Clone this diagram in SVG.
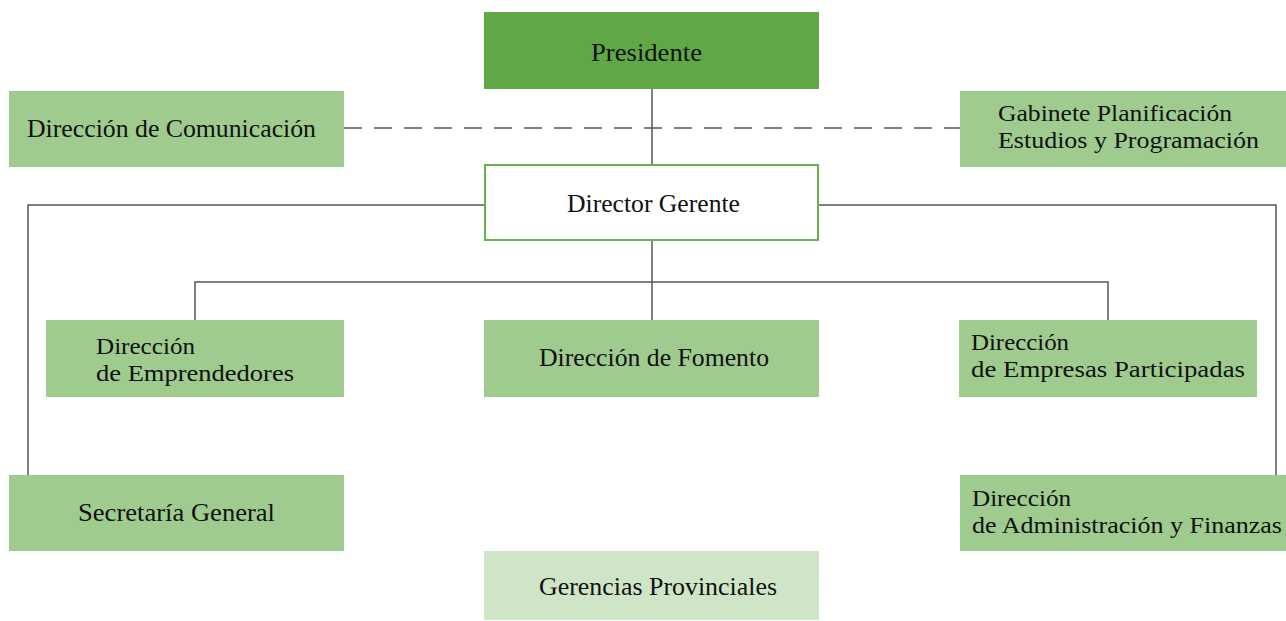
<svg xmlns="http://www.w3.org/2000/svg" width="1286" height="621" viewBox="0 0 1286 621">
<style>
text{font-family:"Liberation Serif","Times New Roman",serif;font-size:26px;fill:#111;}
.two{font-size:24px;}
.mid{fill:#9fcb8f;}
.dark{fill:#5fa845;}
.light{fill:#cfe5c8;}
.ln{stroke:#555;stroke-width:1.5;fill:none;}
</style>
<rect width="1286" height="621" fill="#fff"/>
<g id="connectors">
<line class="ln" x1="652" y1="89" x2="652" y2="164"/>
<line class="ln" x1="344" y1="128" x2="960" y2="128" stroke-dasharray="18 12"/>
<polyline class="ln" points="484,205 28,205 28,475"/>
<polyline class="ln" points="819,205 1276,205 1276,475"/>
<line class="ln" x1="652" y1="241" x2="652" y2="320"/>
<polyline class="ln" points="195,320 195,282 1108,282 1108,320"/>
</g>
<g id="presidente"><rect class="dark" x="484" y="12" width="335" height="77"/><text x="591" y="61" textLength="111" lengthAdjust="spacingAndGlyphs">Presidente</text></g>
<g id="comunicacion"><rect class="mid" x="9" y="91" width="335" height="76"/><text x="27" y="137" textLength="289" lengthAdjust="spacingAndGlyphs">Dirección de Comunicación</text></g>
<g id="gabinete"><rect class="mid" x="960" y="91" width="326" height="76"/><text class="two" x="998" y="121" textLength="234" lengthAdjust="spacingAndGlyphs">Gabinete Planificación</text><text class="two" x="998" y="148" textLength="261" lengthAdjust="spacingAndGlyphs">Estudios y Programación</text></g>
<g id="director"><rect x="485" y="165" width="333" height="75" fill="#fff" stroke="#6ab04c" stroke-width="2"/><text x="567" y="212" textLength="173" lengthAdjust="spacingAndGlyphs">Director Gerente</text></g>
<g id="emprendedores"><rect class="mid" x="46" y="320" width="298" height="77"/><text class="two" x="96" y="354" textLength="99" lengthAdjust="spacingAndGlyphs">Dirección</text><text class="two" x="96" y="381" textLength="198" lengthAdjust="spacingAndGlyphs">de Emprendedores</text></g>
<g id="fomento"><rect class="mid" x="484" y="320" width="335" height="77"/><text x="539" y="366" textLength="230" lengthAdjust="spacingAndGlyphs">Dirección de Fomento</text></g>
<g id="participadas"><rect class="mid" x="959" y="320" width="298" height="77"/><text class="two" x="971" y="350" textLength="98" lengthAdjust="spacingAndGlyphs">Dirección</text><text class="two" x="971" y="377" textLength="274" lengthAdjust="spacingAndGlyphs">de Empresas Participadas</text></g>
<g id="secretaria"><rect class="mid" x="9" y="475" width="335" height="76"/><text x="78" y="521" textLength="197" lengthAdjust="spacingAndGlyphs">Secretaría General</text></g>
<g id="administracion"><rect class="mid" x="960" y="475" width="326" height="76"/><text class="two" x="972" y="506" textLength="99" lengthAdjust="spacingAndGlyphs">Dirección</text><text class="two" x="972" y="533" textLength="310" lengthAdjust="spacingAndGlyphs">de Administración y Finanzas</text></g>
<g id="gerencias"><rect class="light" x="484" y="551" width="335" height="69"/><text x="539" y="595" textLength="238" lengthAdjust="spacingAndGlyphs">Gerencias Provinciales</text></g>
</svg>
